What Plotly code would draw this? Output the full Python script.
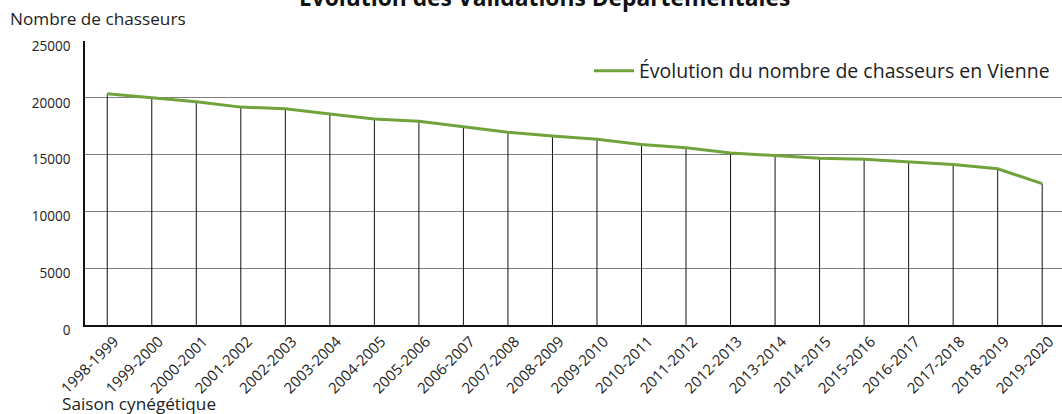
import plotly.graph_objects as go

seasons = ["1998-1999", "1999-2000", "2000-2001", "2001-2002", "2002-2003", "2003-2004",
           "2004-2005", "2005-2006", "2006-2007", "2007-2008", "2008-2009", "2009-2010",
           "2010-2011", "2011-2012", "2012-2013", "2013-2014", "2014-2015", "2015-2016",
           "2016-2017", "2017-2018", "2018-2019", "2019-2020"]
hunters = [20350, 19970, 19650, 19180, 19040, 18570, 18130, 17930, 17430, 16960, 16640,
           16350, 15880, 15610, 15150, 14910, 14680, 14600, 14390, 14120, 13750, 12450]

title_text = "Évolution des Validations Départementales"
series_name = "Évolution du nombre de chasseurs en Vienne"
y_title = "Nombre de chasseurs"
x_title = "Saison cynégétique"
y_ticks = [0, 5000, 10000, 15000, 20000, 25000]
y_tick_labels = ["0", "5000", "10000", "15000", "20000", "25000"]

FONT = "Open Sans"
GREEN = "#70a33c"
TXT = "#222222"

L, T, B = 85, 41, 325
W, H = 1062, 414
PH = B - T


def py(px):
    return (B - px) / PH


def px_x(px):
    return (px - L) / (W - L)


idx = list(range(len(seasons)))

# drop lines from 0 to each value
dx, dy = [], []
for i, v in zip(idx, hunters):
    dx += [i, i, None]
    dy += [0, v, None]

fig = go.Figure()
fig.add_trace(go.Scatter(x=dx, y=dy, mode="lines", line=dict(color="#111111", width=1),
                         showlegend=False, hoverinfo="skip"))
fig.add_trace(go.Scatter(x=idx, y=hunters, mode="lines", name=series_name,
                         line=dict(color=GREEN, width=3)))

fig.update_layout(
    width=W, height=H,
    margin=dict(l=L, r=0, t=T, b=H - B, autoexpand=False),
    paper_bgcolor="white", plot_bgcolor="white",
    font=dict(family=FONT, color=TXT),
    legend=dict(x=px_x(1055), xanchor="right", y=py(71), yanchor="middle",
                bgcolor="rgba(0,0,0,0)", font=dict(size=19.5, color=TXT),
                itemwidth=40),
    showlegend=True,
)
fig.update_xaxes(
    range=[-0.5, 21.445], tickmode="array", tickvals=idx, ticktext=seasons,
    tickangle=-45, tickfont=dict(size=15, color=TXT), automargin=False,
    showgrid=False, showline=True, linecolor="#111111", linewidth=1.5,
    ticks="", zeroline=False, ticklabelshift=7,
)
fig.update_yaxes(
    range=[0, 25000], tickmode="array", tickvals=y_ticks, ticktext=y_tick_labels,
    tickfont=dict(size=13.6, color=TXT), automargin=False,
    showgrid=True, gridcolor="#7f7f7f", gridwidth=1,
    showline=True, linecolor="#111111", linewidth=1.5,
    ticks="", zeroline=False, ticklabelstandoff=10, ticklabelshift=5,
)
fig.add_annotation(text="<b>" + title_text + "</b>", xref="paper", yref="paper",
                   x=px_x(544), y=py(-2.5), xanchor="center", yanchor="middle",
                   showarrow=False, font=dict(size=22.8, color="#111111"))
fig.add_annotation(text=y_title, xref="paper", yref="paper", x=px_x(8), y=py(18),
                   xanchor="left", yanchor="middle", showarrow=False,
                   font=dict(size=17.2, color=TXT))
fig.add_annotation(text=x_title, xref="paper", yref="paper", x=px_x(60), y=py(403.5),
                   xanchor="left", yanchor="middle", showarrow=False,
                   font=dict(size=17.2, color=TXT))

fig.write_html("out.html", config={"displayModeBar": False},
               post_script="document.body.style.margin='0';document.body.style.overflow='hidden';")
